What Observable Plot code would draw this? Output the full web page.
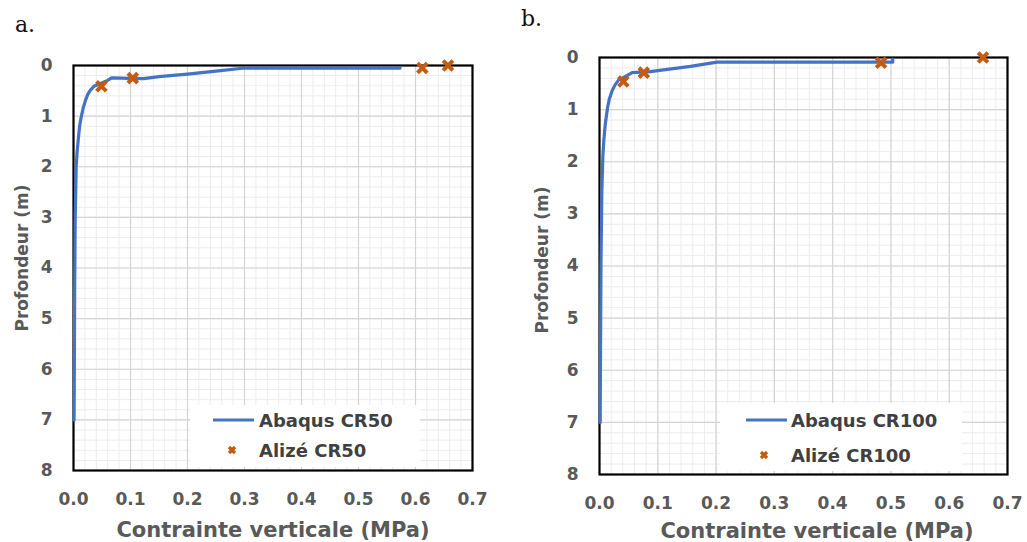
<!DOCTYPE html>
<html>
<head>
<meta charset="utf-8">
<script src="https://cdn.jsdelivr.net/npm/d3@7"></script>
<script src="https://cdn.jsdelivr.net/npm/@observablehq/plot@0.6"></script>
<style>
  html, body { margin:0; padding:0; background:#fff; }
  #root { position:relative; width:1027px; height:542px; overflow:hidden; font-family:"DejaVu Sans", sans-serif; }
  .abs { position:absolute; }
  .panel-label { font-family:"DejaVu Serif", "Liberation Serif", serif; font-size:22px; color:#111; }
  .ytitle { font-weight:bold; font-size:17px; color:#595959; white-space:nowrap; transform:translate(-50%,-50%) rotate(-90deg); }
  .xtitle { font-weight:bold; font-size:21px; color:#595959; white-space:nowrap; transform:translate(-50%,-50%); }
  .legend { background:#fff; }
  .leg-item { position:absolute; font-weight:bold; font-size:18px; color:#404040; white-space:nowrap; transform:translateY(-50%); }
</style>
</head>
<body>
<div id="root"></div>
<script>
// ---------- data ----------
const xTicks = [0, 0.1, 0.2, 0.3, 0.4, 0.5, 0.6, 0.7];
const yTicks = [0, 1, 2, 3, 4, 5, 6, 7, 8];

// Panel a : CR50  (stress MPa, depth m)
const abaqusCR50X = [0.573, 0.45, 0.30, 0.25, 0.20, 0.15, 0.123, 0.10, 0.067, 0.059, 0.040, 0.036, 0.030, 0.025, 0.021, 0.017, 0.0135, 0.0110, 0.0093, 0.0065, 0.0047, 0.003, 0.002, 0.0015, 0.001];
const abaqusCR50Y = [0.05, 0.05, 0.05, 0.11, 0.17, 0.22, 0.26, 0.255, 0.245, 0.30, 0.39, 0.41, 0.48, 0.57, 0.69, 0.84, 1.02, 1.18, 1.35, 1.68, 2.0, 3.0, 4.5, 6.0, 7.0];
const alizeCR50X = [0.049, 0.104, 0.612, 0.657];
const alizeCR50Y = [0.41, 0.25, 0.05, 0.0];

// Panel b : CR100
const abaqusCR100X = [0.503, 0.503, 0.40, 0.30, 0.202, 0.156, 0.087, 0.056, 0.047, 0.033, 0.027, 0.022, 0.017, 0.014, 0.010, 0.0074, 0.0057, 0.004, 0.0025, 0.0018, 0.0012];
const abaqusCR100Y = [0.03, 0.09, 0.09, 0.09, 0.09, 0.17, 0.27, 0.29, 0.35, 0.43, 0.52, 0.63, 0.79, 0.95, 1.27, 1.59, 1.91, 2.6, 4.0, 5.5, 7.0];
const alizeCR100X = [0.041, 0.076, 0.483, 0.658];
const alizeCR100Y = [0.46, 0.29, 0.10, 0.0];

const seriesNames = {a: ["Abaqus CR50", "Alizé CR50"], b: ["Abaqus CR100", "Alizé CR100"]};

const lineColor = "#4472C4";
const dotColor = "#C55A11";
const minorX = d3.range(0, 0.7001, 0.02);
const minorY = d3.range(0, 8.001, 0.2);

const root = document.getElementById("root");

function panel(cfg) {
  const line = cfg.lx.map((x, i) => ({x, y: cfg.ly[i]}));
  const pts = cfg.px.map((x, i) => ({x, y: cfg.py[i]}));
  const chart = Plot.plot({
    width: cfg.width,
    height: 542,
    marginLeft: cfg.ml, marginRight: cfg.mr, marginTop: cfg.mt, marginBottom: cfg.mb,
    style: {fontFamily: "DejaVu Sans, sans-serif", background: "transparent", overflow: "visible"},
    x: {domain: [0, 0.7]},
    y: {domain: [0, 8], reverse: true},
    marks: [
      Plot.gridX(minorX, {stroke: "#ececec", strokeOpacity: 1, strokeWidth: 1}),
      Plot.gridY(minorY, {stroke: "#ececec", strokeOpacity: 1, strokeWidth: 1}),
      Plot.gridX(xTicks, {stroke: "#d4d4d4", strokeOpacity: 1, strokeWidth: 1.2}),
      Plot.gridY(yTicks, {stroke: "#d4d4d4", strokeOpacity: 1, strokeWidth: 1.2}),
      Plot.frame({stroke: "#000", strokeWidth: 2.2}),
      Plot.axisX(xTicks, {tickSize: 0, tickPadding: 22, tickFormat: d3.format(".1f"), fontSize: 17, fontWeight: "bold", color: "#595959", label: null}),
      Plot.axisY(yTicks, {tickSize: 0, tickPadding: 21, tickFormat: d3.format("d"), fontSize: 17, fontWeight: "bold", color: "#595959", label: null}),
      Plot.line(line, {x: "x", y: "y", stroke: lineColor, strokeWidth: 3.2, strokeLinejoin: "round"}),
      Plot.dot(pts, {x: "x", y: "y", symbol: "times", r: 4.5, stroke: dotColor, strokeWidth: 4})
    ]
  });
  const wrap = document.createElement("div");
  wrap.className = "abs";
  wrap.style.left = cfg.left + "px";
  wrap.style.top = "0px";
  wrap.appendChild(chart);
  root.appendChild(wrap);
}

panel({left: 0, width: 500, ml: 73, mr: 28, mt: 65, mb: 72,
  lx: abaqusCR50X, ly: abaqusCR50Y, px: alizeCR50X, py: alizeCR50Y});
panel({left: 500, width: 527, ml: 99, mr: 20, mt: 57, mb: 68,
  lx: abaqusCR100X, ly: abaqusCR100Y, px: alizeCR100X, py: alizeCR100Y});

function addText(cls, text, x, y) {
  const d = document.createElement("div");
  d.className = "abs " + cls;
  d.textContent = text;
  d.style.left = x + "px";
  d.style.top = y + "px";
  root.appendChild(d);
  return d;
}

// panel letters
addText("panel-label", "a.", 15, 12);
addText("panel-label", "b.", 521, 6);
// axis titles
addText("ytitle", "Profondeur (m)", 22, 258);
addText("ytitle", "Profondeur (m)", 542, 260);
addText("xtitle", "Contrainte verticale (MPa)", 273, 530);
addText("xtitle", "Contrainte verticale (MPa)", 817, 531);

// legends
function legend(cfg, names) {
  const box = document.createElement("div");
  box.className = "abs legend";
  Object.assign(box.style, {left: cfg.bx + "px", top: cfg.by + "px", width: cfg.bw + "px", height: cfg.bh + "px"});
  root.appendChild(box);
  const svgNS = "http://www.w3.org/2000/svg";
  const s = document.createElementNS(svgNS, "svg");
  s.setAttribute("width", 1027); s.setAttribute("height", 542);
  s.style.position = "absolute"; s.style.left = "0"; s.style.top = "0"; s.style.pointerEvents = "none";
  const l = document.createElementNS(svgNS, "line");
  l.setAttribute("x1", cfg.lx1); l.setAttribute("x2", cfg.lx2); l.setAttribute("y1", cfg.ly); l.setAttribute("y2", cfg.ly);
  l.setAttribute("stroke", lineColor); l.setAttribute("stroke-width", 3);
  s.appendChild(l);
  const m = document.createElementNS(svgNS, "path");
  const r = 3;
  m.setAttribute("d", `M${cfg.mx - r},${cfg.my - r}L${cfg.mx + r},${cfg.my + r}M${cfg.mx - r},${cfg.my + r}L${cfg.mx + r},${cfg.my - r}`);
  m.setAttribute("stroke", dotColor); m.setAttribute("stroke-width", 3.2);
  s.appendChild(m);
  root.appendChild(s);
  addText("leg-item", names[0], cfg.tx, cfg.ly);
  addText("leg-item", names[1], cfg.tx, cfg.my);
}
legend({bx: 190, by: 405, bw: 230, bh: 62, lx1: 213, lx2: 254, ly: 420, mx: 232, my: 450, tx: 259}, seriesNames.a);
legend({bx: 720, by: 403, bw: 242, bh: 68, lx1: 746, lx2: 787, ly: 420, mx: 764, my: 455, tx: 791}, seriesNames.b);
</script>
</body>
</html>
